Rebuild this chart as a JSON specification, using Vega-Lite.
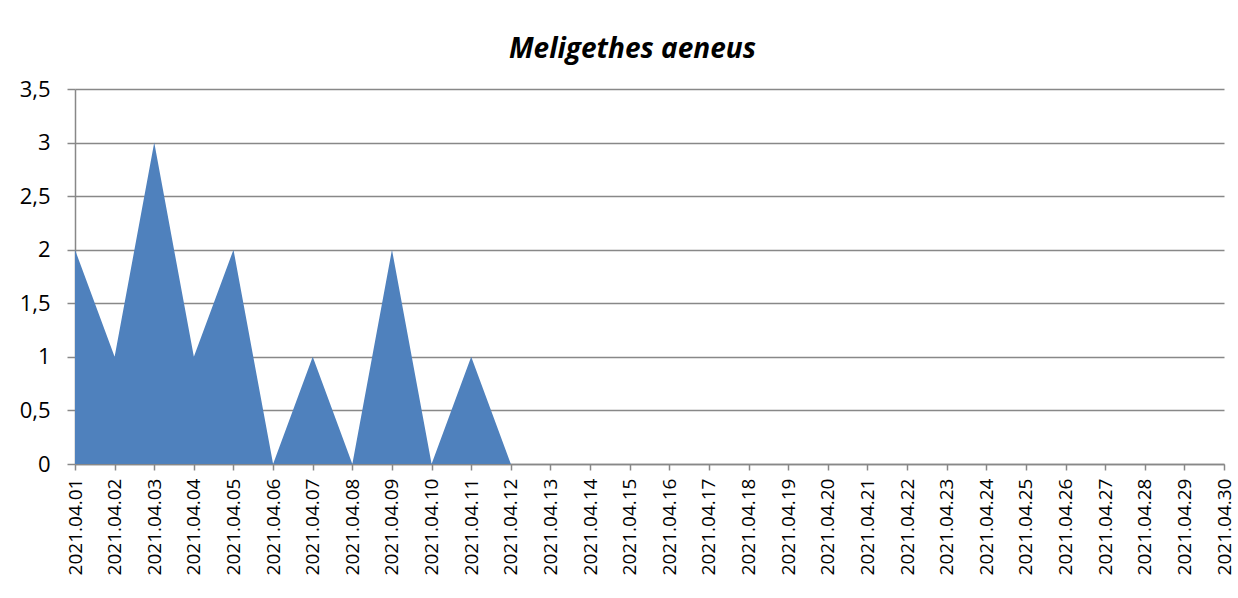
{
  "$schema": "https://vega.github.io/schema/vega-lite/v6.json",
  "width": 1149,
  "height": 375,
  "autosize": {"type": "none"},
  "padding": {"left": 75, "top": 89, "right": 14, "bottom": 134},
  "background": "white",
  "title": {
    "text": "Meligethes aeneus",
    "font": "Open Sans",
    "fontSize": 28,
    "fontStyle": "italic",
    "fontWeight": "bold",
    "color": "#000000",
    "anchor": "middle",
    "dx": -17,
    "offset": 14
  },
  "data": {
    "values": [
      {"date": "2021.04.01", "count": 2},
      {"date": "2021.04.02", "count": 1},
      {"date": "2021.04.03", "count": 3},
      {"date": "2021.04.04", "count": 1},
      {"date": "2021.04.05", "count": 2},
      {"date": "2021.04.06", "count": 0},
      {"date": "2021.04.07", "count": 1},
      {"date": "2021.04.08", "count": 0},
      {"date": "2021.04.09", "count": 2},
      {"date": "2021.04.10", "count": 0},
      {"date": "2021.04.11", "count": 1},
      {"date": "2021.04.12", "count": 0},
      {"date": "2021.04.13", "count": 0},
      {"date": "2021.04.14", "count": 0},
      {"date": "2021.04.15", "count": 0},
      {"date": "2021.04.16", "count": 0},
      {"date": "2021.04.17", "count": 0},
      {"date": "2021.04.18", "count": 0},
      {"date": "2021.04.19", "count": 0},
      {"date": "2021.04.20", "count": 0},
      {"date": "2021.04.21", "count": 0},
      {"date": "2021.04.22", "count": 0},
      {"date": "2021.04.23", "count": 0},
      {"date": "2021.04.24", "count": 0},
      {"date": "2021.04.25", "count": 0},
      {"date": "2021.04.26", "count": 0},
      {"date": "2021.04.27", "count": 0},
      {"date": "2021.04.28", "count": 0},
      {"date": "2021.04.29", "count": 0},
      {"date": "2021.04.30", "count": 0}
    ]
  },
  "mark": {"type": "area", "color": "#4F81BD", "opacity": 1},
  "encoding": {
    "x": {
      "field": "date",
      "type": "ordinal",
      "scale": {"type": "point", "padding": 0},
      "axis": {
        "title": null,
        "labelAngle": -90,
        "labelFont": "Open Sans",
        "labelFontSize": 19,
        "labelColor": "#000000",
        "labelPadding": 8,
        "domainColor": "#888888",
        "domainWidth": 1.5,
        "tickColor": "#888888",
        "tickWidth": 1.5,
        "tickSize": 6,
        "grid": false,
        "labelOverlap": false
      }
    },
    "y": {
      "field": "count",
      "type": "quantitative",
      "scale": {"domain": [0, 3.5], "nice": false},
      "axis": {
        "title": null,
        "values": [0, 0.5, 1, 1.5, 2, 2.5, 3, 3.5],
        "format": ",.1~f",
        "labelExpr": "replace(datum.label, '.', ',')",
        "labelFont": "Open Sans",
        "labelFontSize": 22,
        "labelColor": "#000000",
        "labelPadding": 17,
        "domainColor": "#888888",
        "domainWidth": 1.5,
        "tickColor": "#888888",
        "tickWidth": 1.5,
        "tickSize": 8,
        "grid": true,
        "gridColor": "#888888",
        "gridWidth": 1.5
      }
    }
  },
  "config": {
    "view": {"stroke": null}
  }
}
